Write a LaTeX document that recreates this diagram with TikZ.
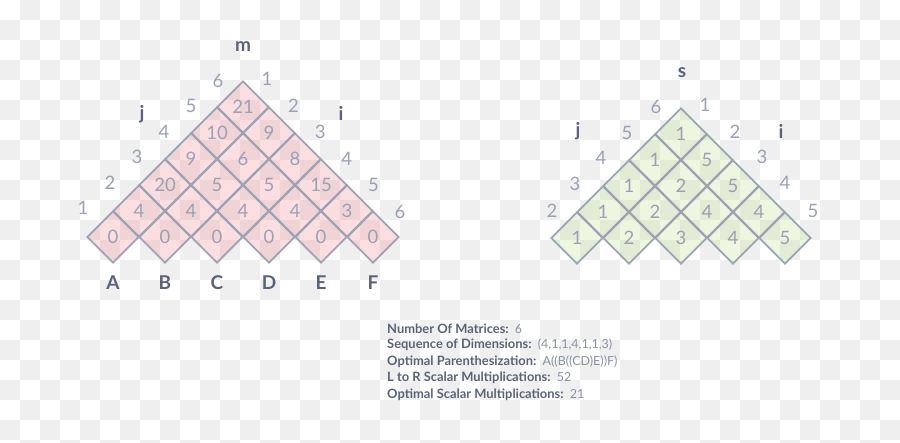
\documentclass[tikz,border=0pt]{standalone}
\usepackage{fontspec}
\setmainfont{Lato}
\usetikzlibrary{shapes.geometric}
\definecolor{chk}{HTML}{EFEFEF}
\definecolor{edgec}{HTML}{9BA3B4}
\definecolor{numc}{HTML}{9AA2B3}
\definecolor{labc}{HTML}{5A6378}
\definecolor{valc}{HTML}{8A93A5}
\definecolor{pinkc}{RGB}{243,147,155}
\definecolor{greenc}{RGB}{196,226,150}
\tikzset{
  cellbase/.style={shape=diamond, aspect=1, minimum width=52pt, minimum height=52pt, inner sep=0pt,
    draw=edgec, line width=1.8pt, text=numc, font=\fontsize{18.5}{18.5}\selectfont, fill opacity=0.3, text opacity=1},
  cellL/.style={cellbase, fill=pinkc},
  cellR/.style={cellbase, fill=greenc},
  idx/.style={text=numc, font=\fontsize{18.5}{18.5}\selectfont, inner sep=0pt},
  axl/.style={text=labc, font=\fontsize{19}{19}\selectfont\bfseries, inner sep=0pt},
  info/.style={anchor=west, inner sep=0pt, text=labc, font=\fontsize{12.9}{12.9}\selectfont\bfseries},
  val/.style={text=valc, font=\fontsize{12.5}{12.5}\selectfont\mdseries}
}
\newcommand{\infoval}[1]{{\color{valc}\mdseries\fontsize{12.5}{12.5}\selectfont #1}}
\begin{document}
\begin{tikzpicture}[x=1pt,y=-1pt]
\useasboundingbox (0,0) rectangle (900,442);
\fill[white] (0,0) rectangle (900,442);
% checkerboard
\foreach \j in {0,2,...,22} {\foreach \i in {20,60,...,900} {\fill[chk] (\i,\j*20) rectangle ++(20,20);}}
\foreach \j in {1,3,...,21} {\foreach \i in {0,40,...,880} {\fill[chk] (\i,\j*20) rectangle ++(20,20);}}
% left triangle
\foreach \r/\vals in {1/{0,0,0,0,0,0},2/{4,4,4,4,3},3/{20,5,5,15},4/{9,6,8},5/{10,9},6/{21}} {
  \foreach \v [count=\c] in \vals {
    \node[cellL] (L-\r-\c) at ({113+52*(\c-1)+26*(\r-1)},{237-26*(\r-1)}) {\v};
  }
}
\foreach \k in {1,...,6} {
  \node[idx] (Lj\k) at ({83+27*(\k-1)},{208-25.4*(\k-1)}) {\k};
  \node[idx] (Li\k) at ({267+26.6*(\k-1)},{79+26.5*(\k-1)}) {\k};
}
\node[axl] (Lm) at (243,47) {m};
\node[axl] (Lj) at (142,114) {j};
\node[axl] (Li) at (341,113) {i};
\foreach \n [count=\c] in {A,B,C,D,E,F} {
  \node[axl] (M\n) at ({113+52*(\c-1)},283) {\n};
}
% right triangle
\foreach \r/\vals in {1/{1,2,3,4,5},2/{1,2,4,4},3/{1,2,5},4/{1,5},5/{1}} {
  \foreach \v [count=\c] in \vals {
    \node[cellR] (R-\r-\c) at ({577+52*(\c-1)+26*(\r-1)},{238-26*(\r-1)}) {\v};
  }
}
\foreach \k/\x/\y in {2/552/211,3/575/184,4/601/158,5/627/133,6/656/107} {
  \node[idx] (Rj\k) at (\x,\y) {\k};
}
\foreach \k/\x/\y in {1/705/105,2/735/132,3/762/157,4/785/183,5/813/211} {
  \node[idx] (Ri\k) at (\x,\y) {\k};
}
\node[axl] (Rs) at (682,73) {s};
\node[axl] (Rj) at (578,131) {j};
\node[axl] (Ri) at (781,131) {i};
% info
\node[info] (t1) at (387,329) {Number Of Matrices:\ \ \infoval{6}};
\node[info] (t2) at (387,345) {Sequence of Dimensions:\ \ \infoval{(4,1,1,4,1,1,3)}};
\node[info] (t3) at (387,362) {Optimal Parenthesization:\ \ \infoval{A((B((CD)E))F)}};
\node[info] (t4) at (387,378) {L to R Scalar Multiplications:\ \ \infoval{52}};
\node[info] (t5) at (387,395) {Optimal Scalar Multiplications:\ \ \infoval{21}};
\end{tikzpicture}
\end{document}
